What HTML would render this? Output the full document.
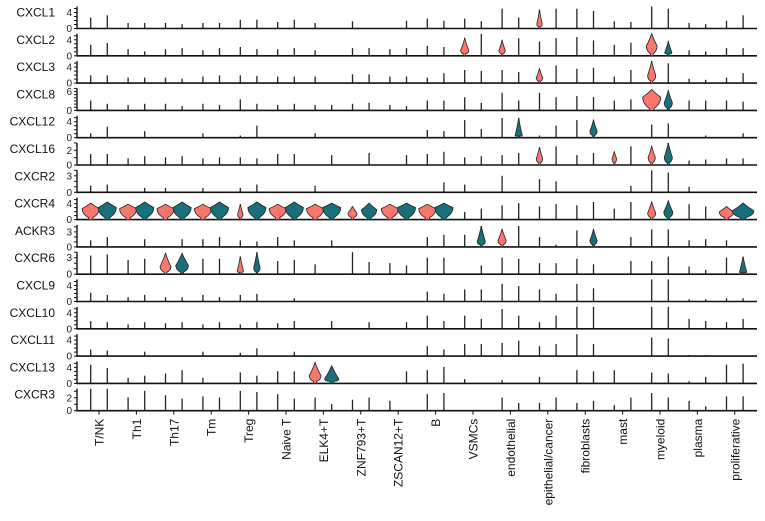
<!DOCTYPE html>
<html><head><meta charset="utf-8"><style>
body{margin:0;background:#fff;}
svg{display:block;font-family:"Liberation Sans",Arial,sans-serif;}
</style></head><body>
<svg id="chart" width="765" height="521" viewBox="0 0 765 521"></svg>
<script>
const genes=["CXCL1","CXCL2","CXCL3","CXCL8","CXCL12","CXCL16","CXCR2","CXCR4","ACKR3","CXCR6","CXCL9","CXCL10","CXCL11","CXCL13","CXCR3"];
const cellTypes=["T/NK","Th1","Th17","Tm","Treg","Naive T","ELK4+T","ZNF793+T","ZSCAN12+T","B","VSMCs","endothelial","epithelial/cancer","fibroblasts","mast","myeloid","plasma","proliferative"];
const axisMax=[5.5,5.5,5.5,7,5.5,3,4,5.5,4.4,4,5.5,5.5,5.5,5.5,3.4];
const axisLabel=[4,4,4,6,4,2,3,4,3,3,4,4,4,4,2];
// max expression (fraction of axis) per gene, pairs (group1, group2) per cell type
const maxExpr=[
[.5,.6,.25,.25,.25,.2,.25,.25,.4,.4,.3,.4,.25,0,.33,0,0,.35,.45,.35,.45,.33,.9,.5,.85,.9,.9,.8,.33,.3,1,.9,.25,.2,.35,.6],
[.5,.58,.3,.2,.3,.35,.25,.35,.4,.3,.3,.35,.25,0,.35,.35,.3,.35,.45,.4,.8,1,.7,.8,.65,.8,.85,.7,.5,.6,1,.65,.25,.2,.35,.35],
[.35,.35,.25,.25,.25,.2,.3,.35,.35,.33,.3,.3,.3,0,.4,.4,.3,.3,.25,.45,.6,.55,.6,.5,.65,.8,.65,.7,.3,.6,1,.9,.2,.15,.25,.45],
[.45,.3,.25,.3,.3,.2,.3,.25,.5,.3,.25,.3,.25,.25,.3,.35,.25,.2,.45,.45,.6,.35,.8,.45,.8,.6,.65,.6,.45,.5,.95,.9,.45,.45,.45,.4],
[.2,.5,0,.3,0,0,.2,0,.1,.55,0,0,.2,0,0,0,0,0,.35,.3,.8,.4,.9,.9,.1,.55,.8,.8,0,0,.6,.65,0,.1,0,.2],
[.5,.5,.3,.4,.35,.4,.3,.35,.35,.3,.5,.5,0,.45,0,.55,0,.45,.5,.6,.35,.4,.45,.55,.8,.85,.45,.55,.6,.85,.85,1,.2,.25,.3,.3],
[.3,.35,0,.2,.2,0,.2,0,.2,.35,0,0,.3,0,0,0,0,0,0,.45,.35,0,.75,0,.6,.5,0,0,0,.3,1,.9,.25,0,0,0],
[.75,.8,.7,.8,.7,.8,.7,.8,.7,.8,.7,.8,.7,.75,.6,.75,.7,.75,.7,.75,.35,.5,.65,.75,.6,.7,.65,.8,.5,.8,.8,.85,.7,.6,.6,.75],
[.3,.45,0,.35,0,.35,.35,.45,.3,.25,.45,.3,0,.3,0,0,0,0,.45,.55,.55,.95,.8,.95,.45,.1,.75,.8,0,.45,.8,.8,.3,.35,.3,0],
[.85,.9,.65,.7,.95,.95,.7,.7,.8,1,.6,.65,.45,0,1,.55,.5,.4,.75,.75,0,.4,.75,.7,.5,.5,.7,.45,0,.6,.6,.8,.35,.2,.75,.8],
[.4,.3,.2,.3,.2,.2,.3,.2,.3,.35,0,.15,0,0,0,0,0,0,.45,.35,.55,.55,.8,.7,.55,.35,.8,.6,0,0,1,1,.1,.1,.15,.15],
[.35,.3,.2,.3,.25,.3,.2,.3,.2,.3,.25,.35,0,.35,0,.3,0,.3,.6,.35,.6,.45,.9,.6,.3,.6,1,1,0,0,1,1,.45,.35,.3,.45],
[.3,.25,0,.2,0,0,.2,0,.15,.35,0,.2,0,0,0,0,0,0,.45,.3,.55,.55,.6,.7,.45,.55,1,.55,0,0,.85,.8,.05,.05,0,0],
[.85,.7,.25,.35,.45,.6,.25,0,.5,.35,.55,.55,.95,.8,0,0,0,.55,.6,.75,.2,0,.15,0,.3,0,.6,.55,.6,0,.5,.45,.1,.3,.85,.9],
[1,1,.6,.9,.7,.55,.65,.6,.9,.85,.75,.55,.6,.3,.5,.6,.45,0,.75,.8,0,0,.6,.35,.35,.6,.35,.45,.25,.6,.8,.6,.45,.2,.65,.65]
];
// violin bodies: gene index, column index (2*cell+group), peak height, relative width
const violinGene=[0, 1,1,1,1, 2,2, 3,3, 4,4, 5,5,5,5,
 7,7,7,7,7,7,7,7,7,7, 7,7,7,7,7,7,7,7,7,7, 7,7,7,7,
 8,8,8, 9,9,9,9,9, 13,13];
const violinCol=[24, 20,22,30,31, 24,30, 30,31, 23,27, 24,28,30,31,
 0,1,2,3,4,5,6,7,8,9, 10,11,12,13,14,15,16,17,18,19, 30,31,34,35,
 21,22,27, 4,5,8,9,35, 12,13];
const violinPeak=[.2, .25,.25,.45,.15, .25,.35, .6,.35, .1,.3, .3,.3,.35,.35,
 .5,.55,.5,.55,.5,.55,.5,.55,.25,.55, .5,.55,.5,.55,.3,.45,.5,.55,.5,.55, .3,.35,.35,.4,
 .25,.3,.3, .35,.4,.15,.3,.1, .35,.2];
const violinWidth=[.3, .45,.35,.6,.4, .35,.45, 1,.45, .4,.4, .35,.25,.4,.45,
 .95,1,.95,1,.95,1,.95,1,.3,1, .95,1,.95,1,.5,.85,.95,1,.95,1, .45,.5,.8,1.2,
 .45,.45,.4, .6,.7,.35,.35,.4, .65,.8];

const NS="http://www.w3.org/2000/svg";
const svg=document.getElementById('chart');
const RED="#F8766D",TEAL="#17707A";
const x0=99,step=37.4,off=8.3,halfW=9,baseY0=28.5,rowPitch=27.3,panelH=22,axisX=77,panelRight=757;
const xCol=c=>x0+Math.floor(c/2)*step+(c%2===0?-off:off);
const baseY=g=>baseY0+g*rowPitch;
const yPos=(g,f)=>baseY(g)-f*panelH;
function mk(tag,attrs,parent){const e=document.createElementNS(NS,tag);for(const k in attrs)e.setAttribute(k,attrs[k]);(parent||svg).appendChild(e);return e;}

genes.forEach((gname,g)=>{
  const grp=mk('g',{});
  
  
  const by=baseY(g);
  maxExpr[g].forEach((v,c)=>{
    if(v<=0)return;
    const l=mk('line',{x1:xCol(c),x2:xCol(c),y1:by,y2:yPos(g,v),stroke:'#222','stroke-width':1.3},grp);
    
    
  });
  const xl=mk('line',{x1:axisX,x2:panelRight,y1:by,y2:by,stroke:'#111','stroke-width':1.6},grp);
  
  
  const yl=mk('line',{x1:axisX,x2:axisX,y1:by-panelH,y2:by+0.8,stroke:'#111','stroke-width':1.4},grp);
  
  
  for(let t=0;t<=Math.floor(axisMax[g]);t++){
    const ty=yPos(g,t/axisMax[g]);
    const tk=mk('line',{x1:axisX-3,x2:axisX,y1:ty,y2:ty,stroke:'#111','stroke-width':1},grp);
    
    
  }
  [0,axisLabel[g]].forEach(t=>{
    const tl=mk('text',{x:axisX-5,y:yPos(g,t/axisMax[g])+3.5,'text-anchor':'end','font-size':10,fill:'#222'},grp);
    tl.textContent=t;
    
    
  });
  const gl=mk('text',{x:55,y:by-12,'text-anchor':'end','font-size':12,fill:'#111'},grp);
  gl.textContent=gname;
  
  
});

violinGene.forEach((g,i)=>{
  const c=violinCol[i],cx=xCol(c),by=baseY(g);
  const top=yPos(g,maxExpr[g][c]);
  const py=yPos(g,violinPeak[i]);
  const w=violinWidth[i]*halfW;
  const neckY=by-2;
  const d=`M${cx-w*0.55},${by} Q${cx-w*0.15},${by} ${cx-w*0.25},${neckY} Q${cx-w},${(neckY+py)/2+1} ${cx-w},${py} Q${cx-w*0.5},${py-(py-top)*0.4} ${cx},${top} Q${cx+w*0.5},${py-(py-top)*0.4} ${cx+w},${py} Q${cx+w},${(neckY+py)/2+1} ${cx+w*0.25},${neckY} Q${cx+w*0.15},${by} ${cx+w*0.55},${by} Z`;
  const p=mk('path',{d:d,fill:c%2===0?RED:TEAL,stroke:'#222','stroke-width':0.8});
  
  
});

const lastBase=baseY(genes.length-1);
cellTypes.forEach((ct,i)=>{
  const cx=x0+i*step;
  const tk=mk('line',{x1:cx,x2:cx,y1:lastBase,y2:lastBase+4,stroke:'#111','stroke-width':1});
  
  
  const t=mk('text',{x:0,y:0,'text-anchor':'end','font-size':12,fill:'#111',transform:`translate(${cx+4.5},${lastBase+8}) rotate(-90)`});
  t.textContent=ct;
  
  
});
</script>
</body></html>
